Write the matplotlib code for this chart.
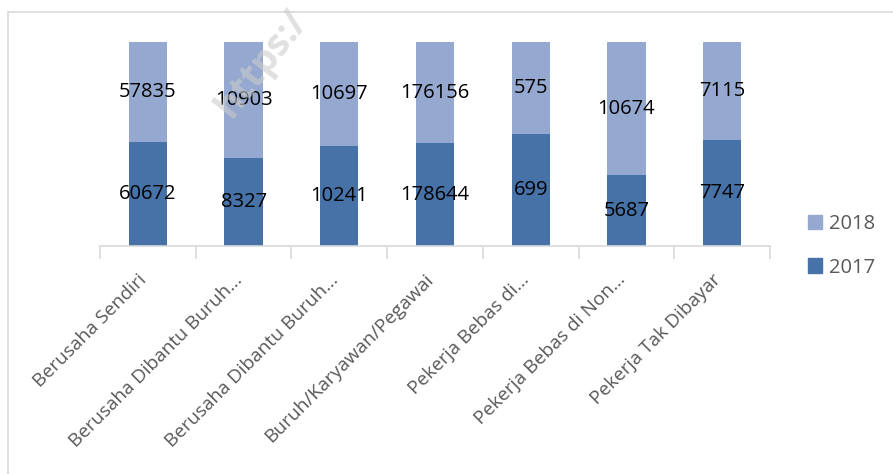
import matplotlib
matplotlib.use("Agg")
import matplotlib.pyplot as plt
import numpy as np
from matplotlib.patches import Rectangle
from matplotlib.transforms import ScaledTranslation, blended_transform_factory

categories = ["Berusaha Sendiri", "Berusaha Dibantu Buruh…", "Berusaha Dibantu Buruh…",
              "Buruh/Karyawan/Pegawai", "Pekerja Bebas di…", "Pekerja Bebas di Non…",
              "Pekerja Tak Dibayar"]
v2017 = [60672, 8327, 10241, 178644, 699, 5687, 7747]
v2018 = [57835, 10903, 10697, 176156, 575, 10674, 7115]

c2017 = "#4672A8"
c2018 = "#95A9D0"
plt.rcParams['font.family'] = ['Open Sans', 'DejaVu Sans']

W, H = 893, 474
fig = plt.figure(figsize=(W/100, H/100), dpi=100)
ax = fig.add_axes([100/W, 1-246/H, (770-100)/W, (246-42)/H])

a = np.array(v2017, float)
b = np.array(v2018, float)
tot = a + b
p17 = a / tot
p18 = b / tot
x = np.arange(len(categories))
ax.bar(x, p17, width=0.40, color=c2017, label="2017", zorder=2)
ax.bar(x, p18, width=0.40, bottom=p17, color=c2018, label="2018", zorder=2)
for i in range(len(x)):
    ax.text(x[i], p17[i]/2, f"{v2017[i]}", ha="center", va="center", fontsize=14.5, color="black", zorder=3)
    ax.text(x[i], p17[i] + p18[i]/2, f"{v2018[i]}", ha="center", va="center", fontsize=14.5, color="black", zorder=3)

ax.set_xlim(-0.5, len(x)-0.5)
ax.set_ylim(0, 1)
for s in ["top", "right", "left"]:
    ax.spines[s].set_visible(False)
ax.spines["bottom"].set_color("#d9d9d9")
ax.spines["bottom"].set_linewidth(1.2)
ax.set_yticks([])
ax.set_xticks(np.arange(-0.5, len(x)))
ax.set_xticklabels([])
ax.tick_params(axis="x", which="major", length=9, color="#d9d9d9", width=1.2)

# category labels (rotated)
trans = blended_transform_factory(ax.transData, ax.transAxes) + \
    ScaledTranslation(-4/100, -31/100, fig.dpi_scale_trans)
for i, c in enumerate(categories):
    ax.text(x[i], 0, c, transform=trans, rotation=45, ha="right", va="center",
            rotation_mode="anchor", fontsize=13.8, color="#595959", clip_on=False)

# legend
h17 = Rectangle((0, 0), 1, 1, color=c2017)
h18 = Rectangle((0, 0), 1, 1, color=c2018)
leg = fig.legend([h18, h17], ["2018", "2017"], loc="center left",
                 bbox_to_anchor=(790/W, 1-246/H), frameon=False, fontsize=14.5,
                 handlelength=0.7, handleheight=0.7, handletextpad=0.35, labelspacing=1.15,
                 labelcolor="#595959")

# outer frame
fig.patches.append(Rectangle((8/W, -0.1), 1.2, 1-12/H+0.1, transform=fig.transFigure,
                             fill=False, edgecolor="#d9d9d9", linewidth=1.2))

# watermark
fig.text(262/W, 1-64/H, "https:/", rotation=52, fontsize=27, fontweight="bold",
         color="#cccccc", alpha=0.6, ha="center", va="center", zorder=10)

fig.savefig("out.png", dpi=100)
